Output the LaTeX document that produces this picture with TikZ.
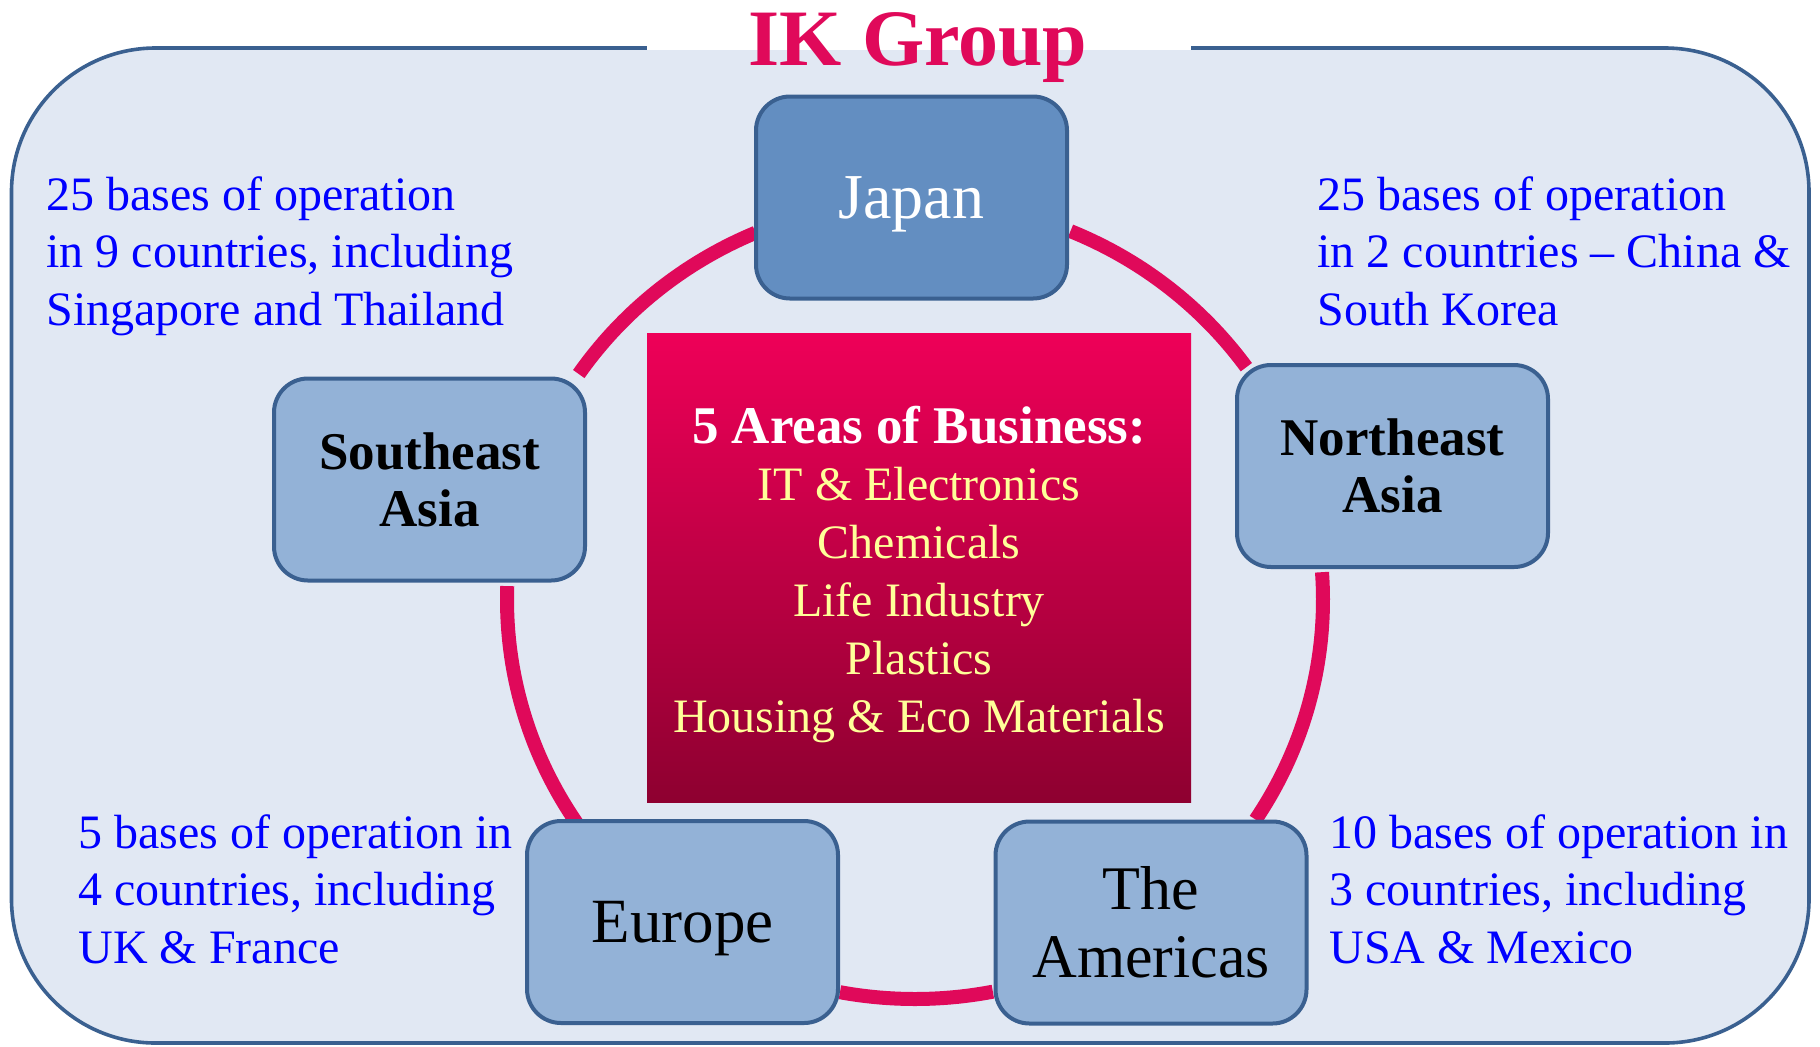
\documentclass[tikz,border=0pt]{standalone}
\usepackage{fontspec}
\setmainfont{Liberation Serif}
\usepackage{tikz}

\definecolor{panelfill}{RGB}{225,232,243}
\definecolor{panelline}{RGB}{58,96,144}
\definecolor{japanfill}{RGB}{99,142,193}
\definecolor{regionfill}{RGB}{147,178,215}
\definecolor{ringred}{RGB}{224,9,90}
\definecolor{bizyellow}{RGB}{255,255,153}
\definecolor{biztop}{RGB}{238,0,88}
\definecolor{bizbottom}{RGB}{142,0,48}

\tikzset{
	region/.style={draw=panelline, line width=2pt, fill=regionfill, rounded corners=17pt,
		minimum width=155.5pt, minimum height=101pt, align=center, inner sep=0pt},
	ring/.style={line width=7pt, ringred},
	note/.style={anchor=base west, align=left, text=blue, inner sep=0pt,
		font=\fontsize{24}{28.75}\selectfont},
}

\begin{document}
\begin{tikzpicture}[x=0.5pt,y=-0.5pt]
				\useasboundingbox (0,0) rectangle (1820,1046);
				\draw[panelline, line width=1.8pt, fill=panelfill, rounded corners=72pt] (11.5,48) rectangle (1809,1043);
				\fill[white] (647,0) rectangle (1191,50);
				\node[anchor=base, inner sep=0pt, text=ringred, font=\fontsize{40}{48}\selectfont\bfseries] (title) at (918,65) {IK Group};

				\foreach \a/\b in {214.5/247, 146/182, 79/100.6, -4/33.4, 292.4/324.3}
					\draw[ring] plot[domain=\a:\b, samples=40] ({915+408*cos(\x)},{600+399*sin(\x)});

				\node[region, fill=japanfill, text=white, text depth=0pt, font=\fontsize{32}{38}\selectfont] (japan) at (911.5,197.5) {Japan};
				\node[region, font=\fontsize{26.5}{28.5}\selectfont\bfseries] (seasia) at (429.5,479.5) {Southeast\\Asia};
				\node[region, font=\fontsize{26.5}{28.5}\selectfont\bfseries] (neasia) at (1392.5,466) {Northeast\\Asia};
				\node[region, text depth=0pt, font=\fontsize{31.5}{36}\selectfont] (europe) at (682.5,922) {Europe};
				\node[region, font=\fontsize{31}{34}\selectfont] (americas) at (1151,922.5) {The\\Americas};

				\node[minimum width=272pt, minimum height=234.5pt, inner sep=0pt, top color=biztop, bottom color=bizbottom] (business) at (919,567.5) {};
				\node[anchor=base, align=center, inner sep=0pt, text=bizyellow, font=\fontsize{24}{28.9}\selectfont] (arealist) at (919,732)
					{\textcolor{white}{\fontsize{26.5}{28.9}\selectfont\bfseries 5 Areas of Business:}\\IT \& Electronics\\Chemicals\\Life Industry\\Plastics\\Housing \& Eco Materials};

				\node[note] (seanote) at (46,325) {25 bases of operation\\in 9 countries, including\\Singapore and Thailand};
				\node[note] (neanote) at (1317,325) {25 bases of operation\\in 2 countries -- China \&\\South Korea};
				\node[note] (eunote) at (78,963) {5 bases of operation in\\4 countries, including\\UK \& France};
				\node[note] (amnote) at (1329,963) {10 bases of operation in\\3 countries, including\\USA \& Mexico};
			\end{tikzpicture}
\end{document}
